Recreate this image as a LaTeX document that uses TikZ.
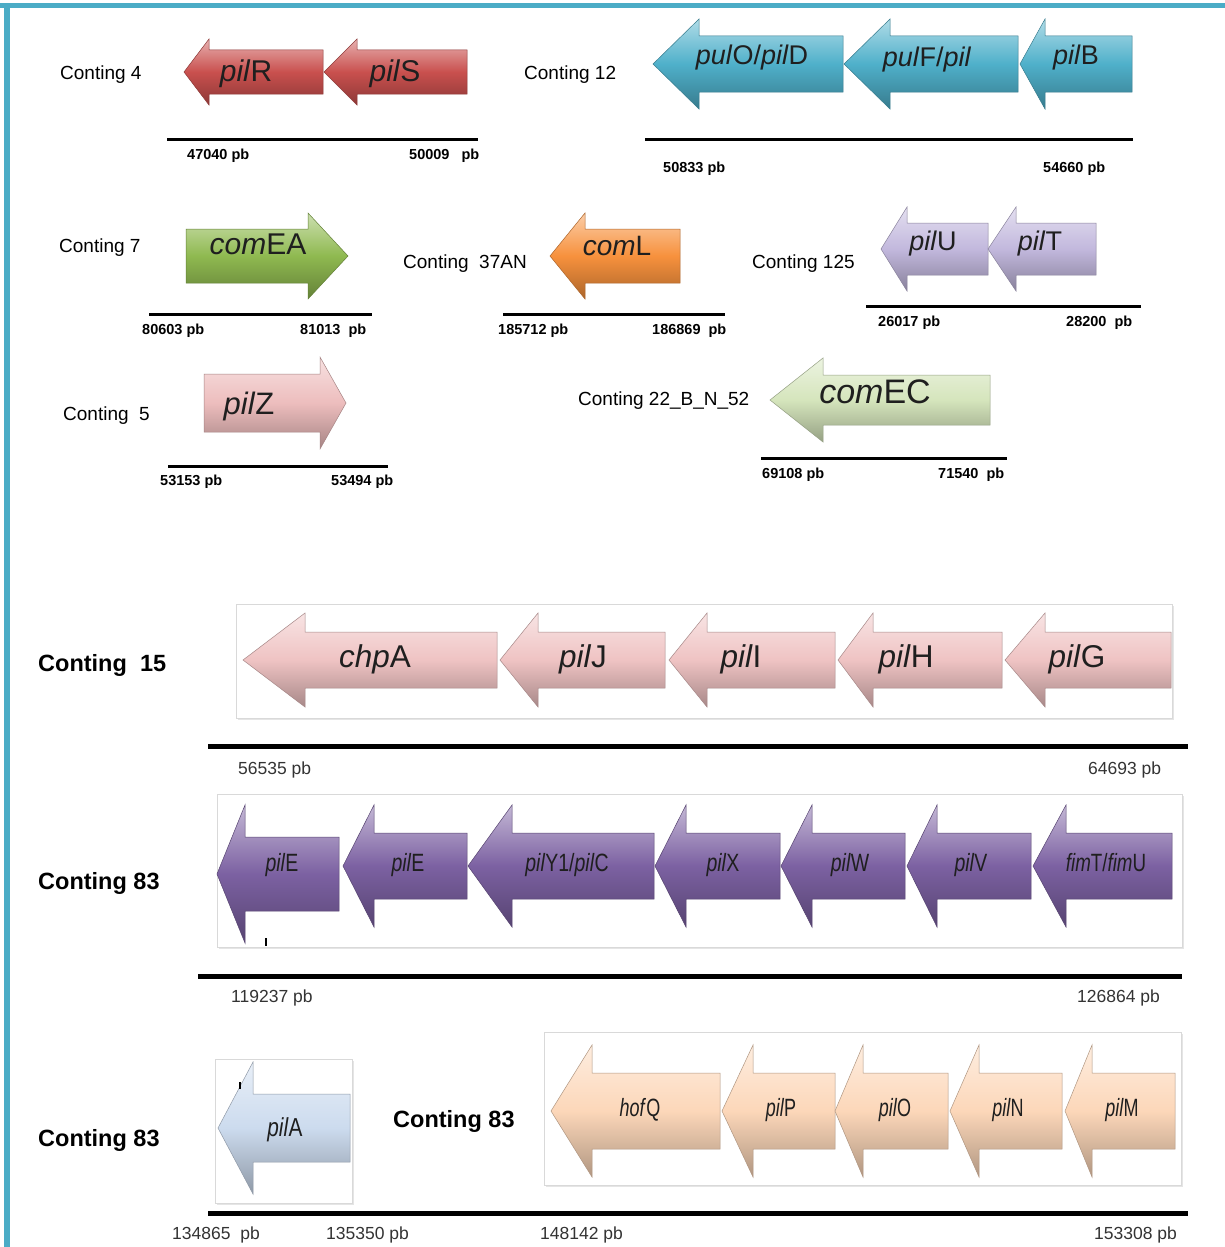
\documentclass[tikz,border=0pt]{standalone}
\usepackage{fontspec}
\setmainfont{Liberation Sans}
\usepackage{graphicx}
\usetikzlibrary{shadows}
\definecolor{frameblue}{HTML}{4BACC6}
\definecolor{gred}{HTML}{C9504E}
\definecolor{gblue}{HTML}{4FB0CA}
\definecolor{ggreen}{HTML}{8FB950}
\definecolor{gorange}{HTML}{F7913D}
\definecolor{glav}{HTML}{C2B8DD}
\definecolor{gpink}{HTML}{EDBDBD}
\definecolor{glgreen}{HTML}{D5E5BC}
\definecolor{gpinkb}{HTML}{EFC3C3}
\definecolor{gpurple}{HTML}{7C61A2}
\definecolor{glblue}{HTML}{CCDBEE}
\definecolor{gpeach}{HTML}{FCD7B9}
% left-pointing gene arrow: tip x, head base x, end x, centre y, half head, half body, colour
\newcommand\geneL[7]{\path[genefill=#7] (#1,#4) -- (#2,#4-#5) -- (#2,#4-#6) -- (#3,#4-#6) -- (#3,#4+#6) -- (#2,#4+#6) -- (#2,#4+#5) -- cycle;}
% right-pointing gene arrow: tail x, head base x, tip x, centre y, half head, half body, colour
\newcommand\geneR[7]{\path[genefill=#7] (#3,#4) -- (#2,#4-#5) -- (#2,#4-#6) -- (#1,#4-#6) -- (#1,#4+#6) -- (#2,#4+#6) -- (#2,#4+#5) -- cycle;}
\newcommand\squeezetxt[2]{\scalebox{#1}[1]{#2}}
\begin{document}
\begin{tikzpicture}[x=1pt,y=-1pt,
  contig/.style={anchor=mid west,inner sep=0pt,yshift=-4.5pt,font=\fontsize{19}{21}\selectfont},
  contigb/.style={anchor=mid west,inner sep=0pt,yshift=-6pt,font=\bfseries\fontsize{23.5}{26}\selectfont},
  pbs/.style={anchor=mid west,inner sep=0pt,yshift=-3pt,font=\bfseries\fontsize{14.5}{16}\selectfont},
  pbl/.style={anchor=mid west,inner sep=0pt,yshift=-4pt,font=\fontsize{17.5}{19}\selectfont,text=black!80},
  gene/.style={anchor=mid,inner sep=0pt,yshift=-7pt,text=black!88},
  sbar/.style={line width=3pt},
  lbar/.style={line width=5pt},
  gbox/.style={fill=white,draw=black!15,line width=1pt,drop shadow={shadow xshift=1.5pt,shadow yshift=-1.5pt,opacity=0.2}},
  genefill/.style={top color=#1!45!white,bottom color=#1!70!black,middle color=#1,draw=#1!70!black,line width=0.5pt}]
\useasboundingbox (0,0) rectangle (1225,1247);
\fill[white] (0,0) rectangle (1225,1247);
\fill[frameblue] (0,3) rectangle (1225,8);
\fill[frameblue] (4,3) rectangle (10,1247);

% ---------- Contig 4
\node[contig] (c4) at (60,72) {Conting 4};
\geneL{184}{209}{323}{72}{33}{22}{gred}
\geneL{324}{357}{467}{72}{33}{22}{gred}
\node[gene,font=\fontsize{30}{31}\selectfont] (pilR) at (246,72) {\textit{pil}R};
\node[gene,font=\fontsize{30}{31}\selectfont] (pilS) at (395,72) {\textit{pil}S};
\coordinate (b4a) at (167,139); \coordinate (b4b) at (478,139);
\draw[sbar] (b4a) -- (b4b);
\node[pbs] (p4a) at (187,154) {47040 pb};
\node[pbs] (p4b) at (409,154) {50009\ \ \ pb};

% ---------- Contig 12
\node[contig] (c12) at (524,72) {Conting 12};
\geneL{653}{699}{843}{64}{45}{28}{gblue}
\geneL{844}{890}{1018}{64}{45}{28}{gblue}
\geneL{1020}{1045}{1132}{64}{45}{28}{gblue}
\node[gene,font=\fontsize{27}{28}\selectfont] (pulO) at (752,55) {\textit{pul}O/\textit{pil}D};
\node[gene,font=\fontsize{27}{28}\selectfont] (pulF) at (927,57) {\textit{pul}F/\textit{pil}};
\node[gene,font=\fontsize{27}{28}\selectfont] (pilB) at (1076,55) {\textit{pil}B};
\coordinate (b12a) at (645,139); \coordinate (b12b) at (1133,139);
\draw[sbar] (b12a) -- (b12b);
\node[pbs] (p12a) at (663,167) {50833 pb};
\node[pbs] (p12b) at (1043,167) {54660 pb};

% ---------- Contig 7
\node[contig] (c7) at (59,245) {Conting 7};
\geneR{186}{308}{348}{256}{43}{27}{ggreen}
\node[gene,font=\fontsize{30}{31}\selectfont] (comEA) at (258,245) {\textit{com}EA};
\coordinate (b7a) at (149,314); \coordinate (b7b) at (372,314);
\draw[sbar] (b7a) -- (b7b);
\node[pbs] (p7a) at (142,329) {80603 pb};
\node[pbs] (p7b) at (300,329) {81013\ \ pb};

% ---------- Contig 37AN
\node[contig] (c37) at (403,261) {Conting\ \ 37AN};
\geneL{550}{585}{680}{256}{43}{27}{gorange}
\node[gene,font=\fontsize{28}{29}\selectfont] (comL) at (617,246) {\textit{com}L};
\coordinate (b37a) at (503,314); \coordinate (b37b) at (725,314);
\draw[sbar] (b37a) -- (b37b);
\node[pbs] (p37a) at (498,329) {185712 pb};
\node[pbs] (p37b) at (652,329) {186869\ \ pb};

% ---------- Contig 125
\node[contig] (c125) at (752,261) {Conting 125};
\geneL{881}{907}{988}{249}{42}{26}{glav}
\geneL{988}{1016}{1096}{249}{42}{26}{glav}
\node[gene,font=\fontsize{27}{28}\selectfont] (pilU) at (933,241) {\textit{pil}U};
\node[gene,font=\fontsize{27}{28}\selectfont] (pilT) at (1040,241) {\textit{pil}T};
\coordinate (b125a) at (866,306); \coordinate (b125b) at (1141,306);
\draw[sbar] (b125a) -- (b125b);
\node[pbs] (p125a) at (878,321) {26017 pb};
\node[pbs] (p125b) at (1066,321) {28200\ \ pb};

% ---------- Contig 5
\node[contig] (c5) at (63,413) {Conting\ \ 5};
\geneR{204}{320}{346}{403}{46}{29}{gpink}
\node[gene,font=\fontsize{31}{32}\selectfont] (pilZ) at (249,405) {\textit{pil}Z};
\coordinate (b5a) at (168,466); \coordinate (b5b) at (388,466);
\draw[sbar] (b5a) -- (b5b);
\node[pbs] (p5a) at (160,480) {53153 pb};
\node[pbs] (p5b) at (331,480) {53494 pb};

% ---------- Contig 22_B_N_52
\node[contig] (c22) at (578,398) {Conting 22\_B\_N\_52};
\geneL{770}{823}{990}{400}{42}{25}{glgreen}
\node[gene,font=\fontsize{34}{35}\selectfont] (comEC) at (875,394) {\textit{com}EC};
\coordinate (b22a) at (761,458); \coordinate (b22b) at (1007,458);
\draw[sbar] (b22a) -- (b22b);
\node[pbs] (p22a) at (762,473) {69108 pb};
\node[pbs] (p22b) at (938,473) {71540\ \ pb};

% ---------- Contig 15
\node[contigb] (c15) at (38,663) {Conting\ \ 15};
\path[gbox] (236,604) rectangle (1172,718);
\geneL{243}{305}{497}{660}{47}{28}{gpinkb}
\geneL{500}{538}{665}{660}{47}{28}{gpinkb}
\geneL{669}{707}{835}{660}{47}{28}{gpinkb}
\geneL{838}{873}{1002}{660}{47}{28}{gpinkb}
\geneL{1005}{1045}{1171}{660}{47}{28}{gpinkb}
\node[gene,font=\fontsize{31.5}{32}\selectfont] (chpA) at (375,658) {\textit{chp}A};
\node[gene,font=\fontsize{31.5}{32}\selectfont] (pilJ) at (583,658) {\textit{pil}J};
\node[gene,font=\fontsize{31.5}{32}\selectfont] (pilI) at (741,658) {\textit{pil}I};
\node[gene,font=\fontsize{31.5}{32}\selectfont] (pilH) at (906,658) {\textit{pil}H};
\node[gene,font=\fontsize{31.5}{32}\selectfont] (pilG) at (1077,658) {\textit{pil}G};
\coordinate (b15a) at (208,746); \coordinate (b15b) at (1188,746);
\draw[lbar] (b15a) -- (b15b);
\node[pbl] (p15a) at (238,768) {56535 pb};
\node[pbl] (p15b) at (1088,768) {64693 pb};

% ---------- Contig 83 (first)
\node[contigb] (c83a) at (38,881) {Conting 83};
\path[gbox] (217,794) rectangle (1182,947);
\geneL{217}{245}{339}{874}{69}{37}{gpurple}
\geneL{343}{374}{467}{866}{61}{33}{gpurple}
\geneL{468}{512}{654}{866}{61}{33}{gpurple}
\geneL{655}{686}{780}{866}{61}{33}{gpurple}
\geneL{781}{812}{905}{866}{61}{33}{gpurple}
\geneL{907}{937}{1031}{866}{61}{33}{gpurple}
\geneL{1033}{1066}{1172}{866}{61}{33}{gpurple}
\draw[line width=1.5pt] (266,938) -- (266,946);
\node[gene,font=\fontsize{25}{26}\selectfont] (pilE1) at (282,862) {\squeezetxt{0.78}{\textit{pil}E}};
\node[gene,font=\fontsize{25}{26}\selectfont] (pilE2) at (408,862) {\squeezetxt{0.78}{\textit{pil}E}};
\node[gene,font=\fontsize{25}{26}\selectfont] (pilY) at (567,862) {\squeezetxt{0.78}{\textit{pil}Y1/\textit{pil}C}};
\node[gene,font=\fontsize{25}{26}\selectfont] (pilX) at (723,862) {\squeezetxt{0.78}{\textit{pil}X}};
\node[gene,font=\fontsize{25}{26}\selectfont] (pilW) at (850,862) {\squeezetxt{0.78}{\textit{pil}W}};
\node[gene,font=\fontsize{25}{26}\selectfont] (pilV) at (971,862) {\squeezetxt{0.78}{\textit{pil}V}};
\node[gene,font=\fontsize{25}{26}\selectfont] (fimT) at (1106,862) {\squeezetxt{0.75}{\textit{fim}T/\textit{fim}U}};
\coordinate (b83a) at (198,976); \coordinate (b83b) at (1182,976);
\draw[lbar] (b83a) -- (b83b);
\node[pbl] (p83a) at (231,996) {119237 pb};
\node[pbl] (p83b) at (1077,996) {126864 pb};

% ---------- Contig 83 (second row)
\node[contigb] (c83b) at (38,1138) {Conting 83};
\path[gbox] (215,1059) rectangle (352,1203);
\geneL{218}{253}{350}{1128}{66}{34}{glblue}
\draw[line width=1.2pt] (240,1082) -- (240,1089);
\node[gene,font=\fontsize{26}{27}\selectfont] (pilA) at (285,1127) {\squeezetxt{0.8}{\textit{pil}A}};
\node[contigb] (c83c) at (393,1119) {Conting 83};
\path[gbox] (544,1032) rectangle (1181,1185);
\geneL{551}{592}{720}{1111}{66}{38}{gpeach}
\geneL{722}{753}{835}{1111}{66}{38}{gpeach}
\geneL{835}{863}{948}{1111}{66}{38}{gpeach}
\geneL{950}{979}{1062}{1111}{66}{38}{gpeach}
\geneL{1065}{1092}{1175}{1111}{66}{38}{gpeach}
\node[gene,font=\fontsize{25}{26}\selectfont] (hofQ) at (640,1107) {\squeezetxt{0.72}{\textit{hof}Q}};
\node[gene,font=\fontsize{25}{26}\selectfont] (pilP) at (781,1107) {\squeezetxt{0.72}{\textit{pil}P}};
\node[gene,font=\fontsize{25}{26}\selectfont] (pilO) at (895,1107) {\squeezetxt{0.72}{\textit{pil}O}};
\node[gene,font=\fontsize{25}{26}\selectfont] (pilN) at (1008,1107) {\squeezetxt{0.72}{\textit{pil}N}};
\node[gene,font=\fontsize{25}{26}\selectfont] (pilM) at (1122,1107) {\squeezetxt{0.72}{\textit{pil}M}};
\coordinate (b83c) at (208,1213); \coordinate (b83d) at (1188,1213);
\draw[lbar] (b83c) -- (b83d);
\node[pbl] (p83c) at (172,1233) {134865\ \ pb};
\node[pbl] (p83d) at (326,1233) {135350 pb};
\node[pbl] (p83e) at (540,1233) {148142 pb};
\node[pbl] (p83f) at (1094,1233) {153308 pb};
\end{tikzpicture}
\end{document}
